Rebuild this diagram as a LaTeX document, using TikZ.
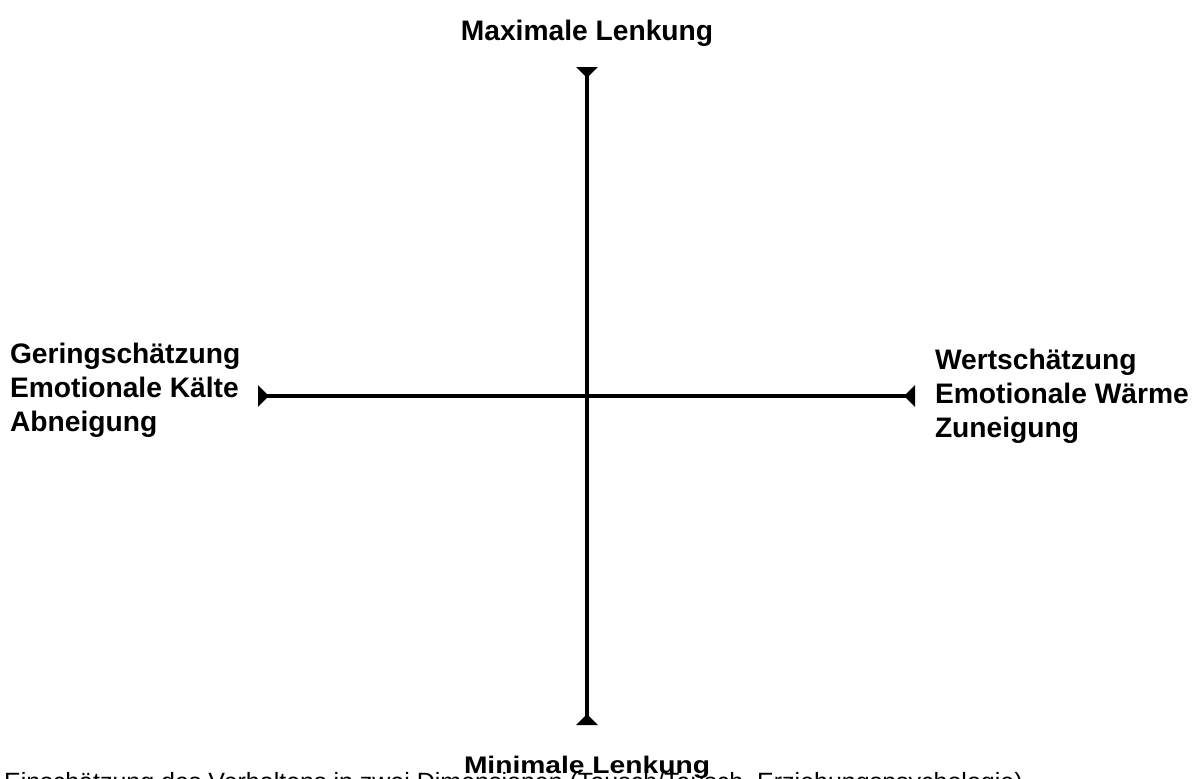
\documentclass[tikz,border=0pt]{standalone}
\usepackage{fontspec}
\setmainfont{Liberation Sans}
\usetikzlibrary{arrows.meta}

\begin{document}
\begin{tikzpicture}[
x=1pt, y=-1pt,
   axis/.style = {line width=3.6pt,
                  {Triangle[reversed,length=11pt,width=21pt]}-{Triangle[reversed,length=11pt,width=21pt]}},
    lbl/.style = {font=\bfseries\fontsize{28.2}{34}\selectfont,
                  inner sep=0pt, outer sep=0pt},% labels at the axis ends
   capt/.style = {font=\fontsize{25}{30}\selectfont, inner sep=0pt, anchor=base west},
                    ]
\useasboundingbox (0,0) rectangle (1202,779);
% axis ends
\coordinate (top)    at (587,67);
\coordinate (bottom) at (587,725);
\coordinate (left)   at (258,396);
\coordinate (right)  at (915,396);
\draw[axis] (top) -- (bottom);
\draw[axis] (left) -- (right);
% labels
\node[lbl, anchor=base] (max) at (587,40) {Maximale Lenkung};
\node[lbl, anchor=base] (min) at (587,773) {\scalebox{1}[0.85]{Minimale Lenkung}};
\foreach \t [count=\i] in {Geringschätzung,Emotionale Kälte,Abneigung}% <-- left side
    \node[lbl, anchor=base west] (L\i) at (10,329+34*\i) {\t};
\foreach \t [count=\i] in {Wertschätzung,Emotionale Wärme,Zuneigung}% <-- right side
    \node[lbl, anchor=base west] (R\i) at (935,335+34*\i) {\t};
\node[capt] (caption) at (4,790) {Einschätzung des Verhaltens in zwei Dimensionen (Tausch/Tausch, Erziehungspsychologie)};
\end{tikzpicture}
\end{document}
